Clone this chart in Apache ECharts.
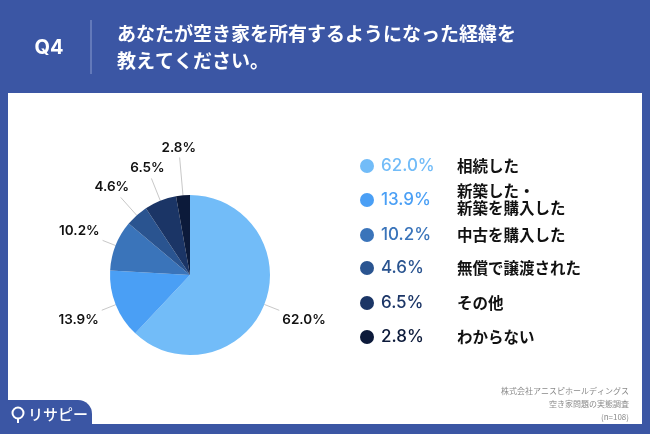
<!DOCTYPE html>
<html>
<head>
<meta charset="utf-8">
<script src="https://cdn.jsdelivr.net/npm/echarts@6/dist/echarts.min.js"></script>
<style>
  html, body { margin: 0; padding: 0; background: #3b56a4; }
  #chart { width: 650px; height: 434px; }
</style>
</head>
<body>
<div id="chart"></div>
<script>
const categories = ['相続した', '新築した・\n新築を購入した', '中古を購入した', '無償で譲渡された', 'その他', 'わからない']
const values = [62.0, 13.9, 10.2, 4.6, 6.5, 2.8]
const colors = ['#72bcf8', '#4a9ff5', '#3a74ba', '#2a5490', '#1b3566', '#0c1a3a']
const titleLines = ['あなたが空き家を所有するようになった経緯を', '教えてください。']
const sourceLines = ['株式会社アニスピホールディングス', '空き家問題の実態調査', '(n=108)']
// leader line length per slice (style only)
const leaderLengths = [16, 15, 14, 24, 24, 38]

const JP = '"Noto Sans CJK JP", sans-serif'
const NUM = 'Inter, "Noto Sans", sans-serif'
const BLUE = '#3b56a4'

// legend rows (y of each row centre)
const legendY = [166, 200, 235, 268, 303, 337]

const graphics = [
  // white panel
  { type: 'rect', shape: { x: 8, y: 93, width: 634, height: 331 }, style: { fill: '#fff' }, z: 0 },
  // logo tab
  { type: 'rect', shape: { x: 0, y: 400, width: 92, height: 40, r: [0, 14, 0, 0] }, style: { fill: BLUE }, z: 1 },
  { type: 'circle', shape: { cx: 18, cy: 413, r: 5.5 }, style: { fill: 'none', stroke: '#fff', lineWidth: 2 }, z: 2 },
  { type: 'line', shape: { x1: 18, y1: 418, x2: 18, y2: 423 }, style: { stroke: '#fff', lineWidth: 2 }, z: 2 },
  { type: 'text', x: 28, y: 414, style: { text: 'リサピー', font: '500 15px ' + JP, fill: '#fff', verticalAlign: 'middle' }, z: 2 },
  // header
  { type: 'text', x: 49, y: 48, style: { text: 'Q4', font: 'bold 20px ' + NUM, fill: '#fff', align: 'center', verticalAlign: 'middle' } },
  { type: 'line', shape: { x1: 91, y1: 20, x2: 91, y2: 74 }, style: { stroke: '#8c9dcf', lineWidth: 1 } }
]
titleLines.forEach((t, i) => {
  graphics.push({ type: 'text', x: 117, y: 34 + i * 27, style: { text: t, font: 'bold 19px ' + JP, fill: '#fff', verticalAlign: 'middle' } })
})
sourceLines.forEach((t, i) => {
  graphics.push({ type: 'text', x: 629, y: 391 + i * 13, style: { text: t, font: '8px ' + JP, fill: '#8a8a8a', align: 'right', verticalAlign: 'middle' }, z: 2 })
})
categories.forEach((c, i) => {
  const y = legendY[i]
  graphics.push({ type: 'circle', shape: { cx: 367, cy: y, r: 7 }, style: { fill: colors[i] }, z: 2 })
  graphics.push({ type: 'text', x: 381, y: y, style: { text: values[i].toFixed(1) + '%', font: '500 17px ' + NUM, fill: colors[i], verticalAlign: 'middle' }, z: 2 })
  graphics.push({ type: 'text', x: 457, y: y, style: { text: c, font: 'bold 15.5px ' + JP, fill: '#111', verticalAlign: 'middle', lineHeight: 17 }, z: 2 })
})

const chart = echarts.init(document.getElementById('chart'))
chart.setOption({
  animation: false,
  color: colors,
  graphic: graphics,
  series: [{
    type: 'pie',
    center: [190, 275],
    radius: 80,
    startAngle: 90,
    clockwise: true,
    avoidLabelOverlap: false,
    z: 3,
    data: categories.map((c, i) => ({
      name: c,
      value: values[i],
      labelLine: { length: leaderLengths[i], length2: 0 }
    })),
    label: {
      show: true,
      formatter: p => p.value.toFixed(1) + '%',
      fontFamily: NUM,
      fontWeight: 600,
      fontSize: 13.5,
      color: '#111'
    },
    labelLine: {
      show: true,
      lineStyle: { color: '#c8c8c8', width: 1 }
    },
    // put the label box just past the end of a radial leader line
    labelLayout: params => {
      const pts = params.labelLinePoints
      if (!pts) return {}
      const a = pts[0], b = pts[1]
      let ux = b[0] - a[0], uy = b[1] - a[1]
      const len = Math.hypot(ux, uy) || 1
      ux /= len; uy /= len
      const hw = params.labelRect.width / 2 + 3, hh = params.labelRect.height / 2 + 3
      const t = Math.min(Math.abs(ux) > 1e-3 ? hw / Math.abs(ux) : 1e9, Math.abs(uy) > 1e-3 ? hh / Math.abs(uy) : 1e9)
      return {
        x: b[0] + ux * t,
        y: b[1] + uy * t,
        align: 'center',
        verticalAlign: 'middle',
        labelLinePoints: [a, b, b]
      }
    },
    itemStyle: { borderWidth: 0 },
    emphasis: { disabled: true }
  }]
})
</script>
</body>
</html>
